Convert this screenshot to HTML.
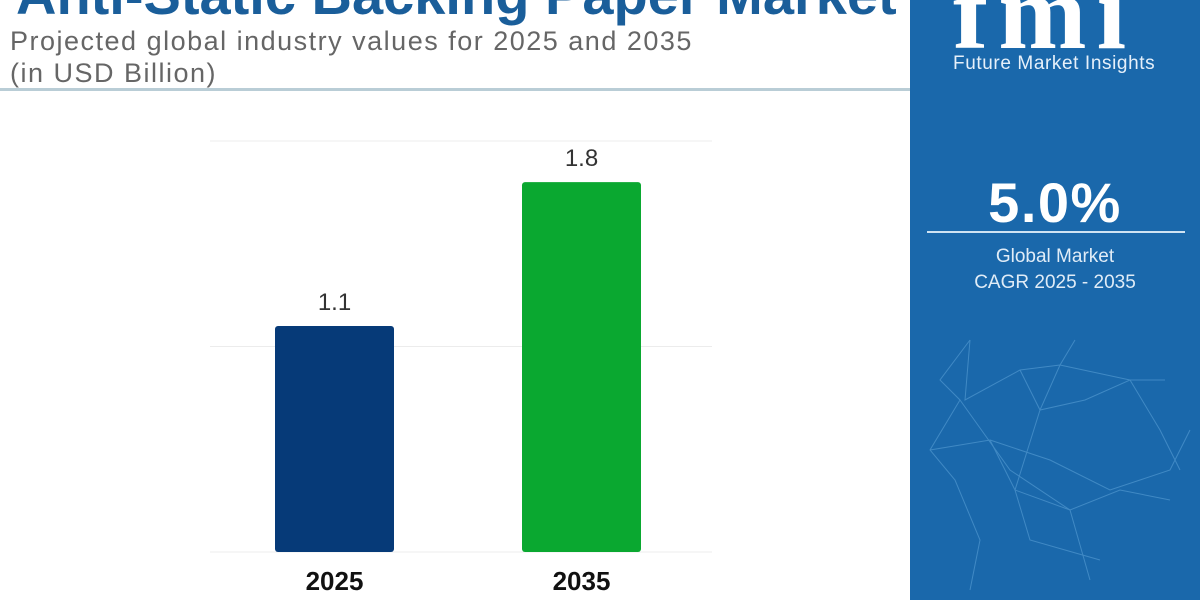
<!DOCTYPE html>
<html><head><meta charset="utf-8">
<style>
body{margin:0;width:1200px;height:600px;overflow:hidden;background:#fff;font-family:"Liberation Sans",sans-serif;position:relative}
.abs{position:absolute}
</style></head>
<body>
<div class="abs" style="left:16px;top:-38px;font-size:56px;font-weight:bold;color:#1a5e9a;white-space:nowrap;letter-spacing:0px">Anti-Static Backing Paper Market</div>
<div class="abs" style="left:10px;top:25px;font-size:27px;color:#666;line-height:32px;letter-spacing:1.5px;white-space:nowrap">Projected global industry values for 2025 and 2035<br>(in USD Billion)</div>
<div class="abs" style="left:0;top:88px;width:910px;height:3px;background:#b9cdd6"></div>

<div class="abs" style="left:910px;top:0;width:290px;height:600px;background:#1a68ab;overflow:hidden">
 <svg width="290" height="600" class="abs" style="left:0;top:0">
  <g stroke="#5aa0d6" stroke-width="1" opacity="0.6" fill="none">
   <polyline points="60,340 30,380 50,400 20,450 45,480 70,540 60,590"/>
   <polyline points="60,340 55,400 110,370 150,365 220,380 255,380"/>
   <polyline points="110,370 130,410 175,400 220,380 250,430 270,470"/>
   <polyline points="80,440 140,460 200,490 260,470 280,430"/>
   <polyline points="20,450 80,440 105,490 160,510 210,490 260,500"/>
   <polyline points="165,340 150,365 130,410 105,490 120,540 190,560"/>
   <polyline points="50,400 100,470 160,510 180,580"/>
  </g>
 </svg>
 <div class="abs" style="left:43px;top:-48px;font-family:'Liberation Serif',serif;font-size:106px;font-weight:bold;color:#fff;letter-spacing:10px">fmi</div>
 <div class="abs" style="left:43px;top:53px;font-size:19px;color:#e6f0fa;letter-spacing:0.6px;white-space:nowrap">Future Market Insights</div>
 <div class="abs" style="left:0;width:290px;text-align:center;top:170px;font-size:56px;font-weight:bold;color:#fff;letter-spacing:1.5px">5.0%</div>
 <div class="abs" style="left:17px;top:231px;width:258px;height:2px;background:#cfe3f3"></div>
 <div class="abs" style="left:0;width:290px;text-align:center;top:244px;font-size:19px;line-height:26px;color:#e0ecf7">Global Market<br>CAGR 2025 - 2035</div>
</div>

<svg class="abs" style="left:0;top:0" width="910" height="600" id="chart"></svg>
<script>
const categories=["2025","2035"];
const values=[1.1,1.8];
const gridValues=[0,1,2];
const svg=document.getElementById('chart');
const NS='http://www.w3.org/2000/svg';
const baseY=552, pxPerUnit=205.5;
const y=v=>baseY-v*pxPerUnit;
const xLeft=210, xRight=712, bandW=(xRight-xLeft)/categories.length, barW=119;
const xc=i=>xLeft+bandW*i+bandW/2+(i===0?-1:-5);
const colors=["#063a78","#0aa830"];
function el(t,a){const e=document.createElementNS(NS,t);for(const k in a)e.setAttribute(k,a[k]);svg.appendChild(e);return e;}
gridValues.forEach(g=>{
 const l=el('line',{x1:xLeft,x2:xRight,y1:y(g),y2:y(g),stroke:'#ececec','stroke-width':1});
 
 
});
categories.forEach((c,i)=>{
 const r=el('rect',{x:xc(i)-barW/2,y:y(values[i]),width:barW,height:baseY-y(values[i]),rx:3,fill:colors[i]});
 
 
 const t=el('text',{x:xc(i),y:y(values[i])-16,'text-anchor':'middle','font-size':24,fill:'#333','font-family':'Liberation Sans, sans-serif'});
 t.textContent=values[i].toFixed(1);
 
 
 const xl=el('text',{x:xc(i),y:baseY+38,'text-anchor':'middle','font-size':26,'font-weight':'bold',fill:'#111','font-family':'Liberation Sans, sans-serif'});
 xl.textContent=c;
 
 
});
</script>
</body></html>
